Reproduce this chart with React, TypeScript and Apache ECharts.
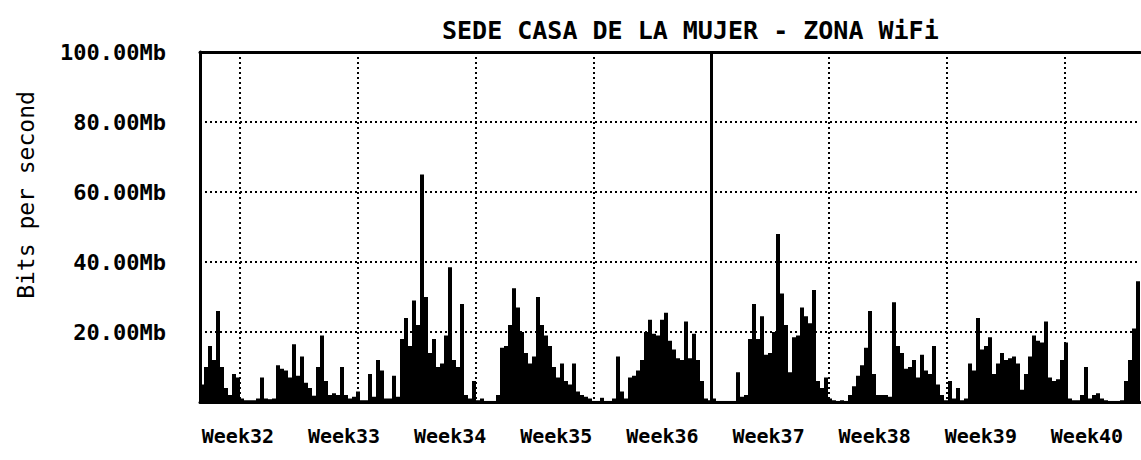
import React, { useEffect, useRef } from "react";
import * as echarts from "echarts";

const chartTitle = "SEDE CASA DE LA MUJER - ZONA WiFi";
const yAxisTitle = "Bits per second";
const weekLabels = ["Week32", "Week33", "Week34", "Week35", "Week36", "Week37", "Week38", "Week39", "Week40"];
const dayCount = 62;
const firstWeekLabelDay = 2;
const yTicks = [0, 20, 40, 60, 80, 100];
const yTickLabels = ["", "20.00Mb", "40.00Mb", "60.00Mb", "80.00Mb", "100.00Mb"];

// traffic samples (Mb/s), read left to right across the plot
const trafficMb = [
  5, 10, 16, 12, 26, 10, 4, 2, 8, 7,
  1, 0.5, 0.5, 0.5, 1, 7, 1, 0.8, 1, 10.5,
  9.5, 9, 7, 16.5, 7.5, 13, 5.5, 4, 1.8, 10,
  19, 6, 2, 2.5, 2, 10, 2, 1, 1.5, 3,
  0.5, 0.5, 8, 1.5, 12, 9, 1, 1, 7.5, 1.5,
  18, 24, 16, 29, 22, 65, 30, 14, 18, 10,
  11, 19, 38.5, 12, 10, 28, 2, 1, 6, 0.5,
  1, 0.3, 0.3, 0.3, 2, 15.5, 16, 22, 32.5, 27,
  20, 14, 11, 13, 30, 22, 19, 16, 10, 7,
  11, 6, 5, 11, 3, 2, 1.5, 1, 0.3, 0.3,
  1.2, 0.3, 0.3, 1, 13, 3, 1, 7, 7.5, 9,
  12, 20, 23.5, 19.5, 19, 23.5, 25.5, 17.5, 15, 12.5,
  12, 23, 12.5, 19.5, 12, 6, 1, 0.5, 1, 0.3,
  0.3, 0.3, 0.3, 0.3, 8.5, 1.5, 2, 18, 28, 18,
  24.5, 13.5, 14, 20, 48, 31, 22, 8.5, 18.5, 19,
  27, 24.5, 22.5, 32, 6, 4, 7, 1, 0.5, 0.3,
  0.5, 0.3, 2, 4.5, 7.5, 10.5, 15.5, 26, 8, 2,
  2, 2, 1.5, 28.5, 16, 14, 9.5, 10, 12, 7,
  13.5, 9, 8, 16, 5, 2, 0.5, 6, 1, 4,
  0.5, 1, 11, 9, 24, 15, 16, 18.5, 8, 11,
  14, 12, 12.5, 13, 11, 3.5, 8, 13, 19, 17.5,
  17, 23, 7, 6, 6.5, 12, 17, 1, 0.5, 0.5,
  2, 10, 1, 2, 2.5, 1, 0.5, 0.3, 0.3, 0.3,
  0.5, 6, 12, 21, 34.5,
];

// vertical grid: value axis in arbitrary units, lines every gridStep, solid marker line at solidLineAt
const gridAxisMax = 900;
const gridStep = 117.8;
const solidLineAt = 471.2;

export default function App() {
  const ref = useRef<HTMLDivElement>(null);

  useEffect(() => {
    if (!ref.current) return;
    const chart = echarts.init(ref.current, undefined, { renderer: "svg" });
    const mono = "DejaVu Sans Mono";
    const dotted = { color: "#000", width: 2, type: [2, 3] as any };
    const sampleCats = trafficMb.map((_, i) => String(i));
    const dayCats = Array.from({ length: dayCount }, (_, i) => {
      const k = i - firstWeekLabelDay;
      return k >= 0 && k % 7 === 0 && k / 7 < weekLabels.length ? weekLabels[k / 7] : "";
    });

    chart.setOption({
      animation: false,
      backgroundColor: "#fff",
      title: {
        text: chartTitle,
        left: 437,
        top: 13,
        textStyle: { fontFamily: mono, fontSize: 25, fontWeight: "bold", color: "#000" },
      },
      graphic: [
        {
          type: "text",
          x: 26,
          y: 195,
          rotation: Math.PI / 2,
          style: {
            text: yAxisTitle,
            fontFamily: mono,
            fontSize: 23,
            fill: "#000",
            align: "center",
            verticalAlign: "middle",
          },
        },
      ],
      grid: [
        { left: 200, right: 1, top: 52, bottom: 58 },
        { left: 240, right: 1, top: 52, bottom: 58 },
      ],
      xAxis: [
        {
          type: "category",
          gridIndex: 0,
          position: "top",
          data: sampleCats,
          boundaryGap: true,
          axisLine: { show: true, onZero: false, lineStyle: { color: "#000", width: 3 } },
          axisTick: { show: false },
          axisLabel: { show: false },
          splitLine: { show: false },
        },
        {
          type: "category",
          gridIndex: 0,
          position: "bottom",
          data: dayCats,
          boundaryGap: true,
          axisLine: { show: true, onZero: false, lineStyle: { color: "#000", width: 3 } },
          axisTick: { show: false },
          axisLabel: {
            interval: 0,
            margin: 24,
            fontFamily: mono,
            fontSize: 20,
            fontWeight: "bold",
            color: "#000",
          },
          splitLine: { show: false },
        },
        {
          type: "value",
          gridIndex: 1,
          min: 0,
          max: gridAxisMax,
          interval: gridStep,
          axisLine: { show: false },
          axisTick: { show: false },
          axisLabel: { show: false },
          splitLine: { show: true, showMaxLine: false, lineStyle: dotted },
        },
      ],
      yAxis: [
        {
          type: "value",
          gridIndex: 0,
          min: 0,
          max: 100,
          interval: 20,
          axisLine: { show: true, onZero: false, lineStyle: { color: "#000", width: 3 } },
          axisTick: { show: false },
          axisLabel: {
            margin: 34,
            fontFamily: mono,
            fontSize: 22,
            fontWeight: "bold",
            color: "#000",
            formatter: (v: number) => {
              const i = yTicks.indexOf(v);
              return i >= 0 ? yTickLabels[i] : "";
            },
          },
          splitLine: { show: true, lineStyle: dotted },
        },
        {
          type: "value",
          gridIndex: 1,
          min: 0,
          max: 100,
          show: false,
        },
      ],
      series: [
        {
          type: "bar",
          name: "traffic",
          xAxisIndex: 0,
          yAxisIndex: 0,
          data: trafficMb,
          barCategoryGap: "0%",
          barGap: "0%",
          itemStyle: { color: "#000" },
          silent: true,
          z: 3,
        },
        {
          type: "line",
          xAxisIndex: 2,
          yAxisIndex: 1,
          data: [],
          silent: true,
          markLine: {
            silent: true,
            symbol: ["none", "none"],
            label: { show: false },
            lineStyle: { color: "#000", type: "solid", width: 3 },
            data: [{ xAxis: solidLineAt }],
          },
        },
      ],
    });

    return () => chart.dispose();
  }, []);

  return (
    <div
      ref={ref}
      style={{ position: "fixed", left: 0, top: 0, width: 1141, height: 460, background: "#fff" }}
    />
  );
}
